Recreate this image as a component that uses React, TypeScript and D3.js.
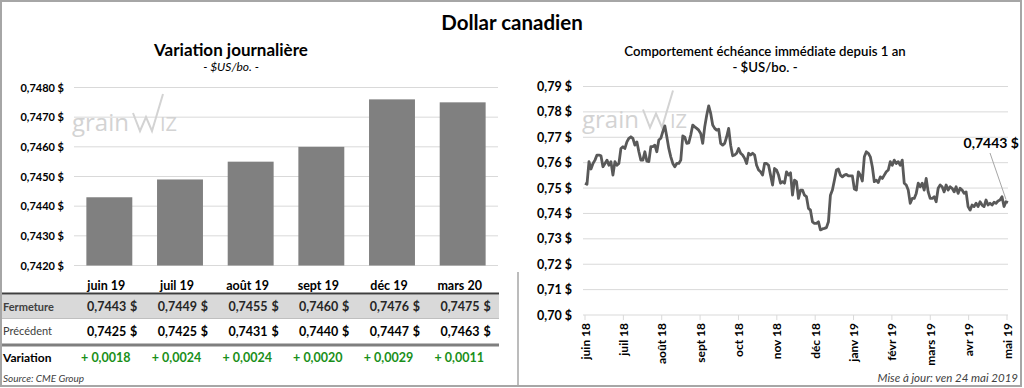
import React from 'react';
import * as d3 from 'd3';

// ---------- DATA ----------
const contracts = ['juin 19', 'juil 19', 'août 19', 'sept 19', 'déc 19', 'mars 20'];
const closeValues = [0.7443, 0.7449, 0.7455, 0.746, 0.7476, 0.7475];
const previousValues = [0.7425, 0.7425, 0.7431, 0.744, 0.7447, 0.7463];
const variationValues = [0.0018, 0.0024, 0.0024, 0.002, 0.0029, 0.0011];
const leftTicks = [0.742, 0.743, 0.744, 0.745, 0.746, 0.747, 0.748];

const monthLabels = ['juin 18', 'juil 18', 'août 18', 'sept 18', 'oct 18', 'nov 18', 'déc 18', 'janv 19', 'févr 19', 'mars 19', 'avr 19', 'mai 19'];
const rightTicks = [0.7, 0.71, 0.72, 0.73, 0.74, 0.75, 0.76, 0.77, 0.78, 0.79];
const history = [
  0.7519, 0.7515, 0.7604, 0.7575, 0.7597, 0.761, 0.763, 0.763, 0.7627, 0.7584,
  0.7597, 0.761, 0.759, 0.7604, 0.7551, 0.7604, 0.759, 0.7597, 0.7656, 0.7663,
  0.7656, 0.7682, 0.7696, 0.7702, 0.7696, 0.7669, 0.7682, 0.7643, 0.761, 0.761,
  0.7643, 0.7606, 0.7604, 0.7663, 0.7663, 0.7669, 0.7643, 0.7689, 0.7696, 0.7722,
  0.7745, 0.7702, 0.7656, 0.7623, 0.7597, 0.7584, 0.7597, 0.7597, 0.761,
  0.7705, 0.77, 0.7676, 0.7678, 0.7709, 0.7748, 0.7741, 0.7735, 0.7728, 0.7715,
  0.7676, 0.7741, 0.7787, 0.7824, 0.7794, 0.7748, 0.7735, 0.7728, 0.7732, 0.7676,
  0.7669, 0.7676, 0.7702, 0.7735, 0.7669, 0.7627, 0.763, 0.7637, 0.7656, 0.7637,
  0.763, 0.7617, 0.7597, 0.7637, 0.763, 0.7637, 0.763, 0.759, 0.7571, 0.7564,
  0.7551, 0.7597, 0.7597, 0.759, 0.7551, 0.7512, 0.7577, 0.7571, 0.7551, 0.7519,
  0.7525, 0.7519, 0.7564, 0.7551, 0.756, 0.7472,
  0.7531, 0.7525, 0.7459, 0.7492, 0.7492, 0.7472, 0.7466, 0.742, 0.7413, 0.7367,
  0.7361, 0.7361, 0.7367, 0.7335, 0.7339, 0.7341, 0.7344, 0.7367, 0.7472, 0.7492,
  0.7531, 0.7571, 0.7575, 0.7551, 0.7544, 0.7551, 0.7554, 0.7548, 0.7548, 0.7548,
  0.7496, 0.7492, 0.7564, 0.7551, 0.7528, 0.7623, 0.7643, 0.7637, 0.7623, 0.7584,
  0.7525, 0.7531, 0.7522, 0.7544, 0.7538, 0.7551, 0.7564, 0.7571, 0.7604, 0.759,
  0.761, 0.7597, 0.7604,
  0.759, 0.761, 0.7519, 0.7512, 0.7492, 0.744, 0.7459, 0.7459, 0.7479, 0.7519,
  0.7505, 0.7519, 0.7492, 0.7538, 0.7485, 0.7459, 0.7459, 0.7466, 0.7446, 0.7499,
  0.7512, 0.7505, 0.7485, 0.7512, 0.7492, 0.7505, 0.7499, 0.7485, 0.7505, 0.7479,
  0.7499, 0.7492, 0.7479, 0.7485, 0.7427, 0.7413, 0.7433, 0.7427, 0.744, 0.7427,
  0.7446, 0.7433, 0.7427, 0.7453, 0.7433, 0.744, 0.7433, 0.7444, 0.744, 0.7449,
  0.7453, 0.7466, 0.7427, 0.7446, 0.7443,
];
const lastValue = 0.7443;

// ---------- STYLE ----------
const FONT = "Lato, 'Open Sans', sans-serif";
const GRID = '#d9d9d9';
const TEXT = '#000000';
const GREEN = '#1a8f1a';

const fmt4 = (v: number) => v.toFixed(4).replace('.', ',');
const fmt2 = (v: number) => v.toFixed(2).replace('.', ',');

function Watermark({ dx, dy }: { dx: number; dy: number }) {
  const c = '#d3d3d3';
  return (
    <g transform={`translate(${dx},${dy})`} pointerEvents="none">
      <text x={72} y={131} fontFamily="'Open Sans', sans-serif" fontSize={24} fill={c}>grain</text>
      <path d="M133,113 L140,131 L146,117 L152,131 L163,94" fill="none" stroke={c} strokeWidth={2} />
      <text x={160} y={131} fontFamily="'Open Sans', sans-serif" fontSize={20} fill={c}>IZ</text>
    </g>
  );
}

export default function App() {
  // Left chart scales
  const xb = d3.scaleBand<string>().domain(contracts).range([74, 498]).paddingInner(0.35).paddingOuter(0.175);
  const yl = d3.scaleLinear().domain([0.742, 0.748]).range([265.5, 87.5]);

  // Right chart scales
  const xr = d3.scaleLinear().domain([0, history.length - 1]).range([585, 1008]);
  const xm = d3.scalePoint<string>().domain(monthLabels).range([585, 1007]);
  const yr = d3.scaleLinear().domain([0.7, 0.79]).range([315, 86.5]);
  const line = d3.line<number>().x((_, i) => xr(i)).y((d) => yr(d));

  const lastX = xr(history.length - 1);
  const lastY = yr(lastValue);

  return (
    <div style={{ position: 'absolute', left: 0, top: 0 }}>
      <svg width={1024} height={388} fontFamily={FONT} style={{ display: 'block' }}>
        <rect x={0} y={0} width={1024} height={388} fill="#fff" />

        {/* Main title */}
        <text x={512} y={30} textAnchor="middle" fontSize={20.5} fontWeight={700} fill={TEXT}>Dollar canadien</text>

        {/* ---------- LEFT CHART ---------- */}
        <text x={231} y={56} textAnchor="middle" fontSize={17} fontWeight={700} fill={TEXT}>Variation journalière</text>
        <text x={231} y={71} textAnchor="middle" fontSize={12} fontStyle="italic" fill={TEXT}>- $US/bo. -</text>

        {leftTicks.map((t) => (
          <g key={t}>
            <line x1={74} x2={498} y1={yl(t)} y2={yl(t)} stroke={GRID} strokeWidth={1} />
            <text x={64} y={yl(t) + 4} textAnchor="end" fontSize={11} fontWeight={700} fill={TEXT}>{fmt4(t)} $</text>
          </g>
        ))}

        <Watermark dx={0} dy={0} />

        {contracts.map((c, i) => (
          <rect key={c} x={xb(c)} y={yl(closeValues[i])} width={xb.bandwidth()} height={yl(0.742) - yl(closeValues[i])} fill="#808080" />
        ))}

        {/* Table */}
        {contracts.map((c) => (
          <text key={c} x={(xb(c) as number) + xb.bandwidth() / 2 - 3} y={290} textAnchor="middle" fontSize={12.5} fontWeight={700} fill={TEXT}>{c}</text>
        ))}
        <rect x={0} y={294.5} width={499} height={23.5} fill="#d9d9d9" />
        <line x1={0} x2={499} y1={293.5} y2={293.5} stroke="#3f3f3f" strokeWidth={2} />
        <line x1={0} x2={499} y1={318.5} y2={318.5} stroke="#bfbfbf" strokeWidth={1} />
        <line x1={0} x2={499} y1={345} y2={345} stroke="#7f7f7f" strokeWidth={3} />

        <text x={3} y={311} fontSize={11} fontWeight={700} fill="#404040">Fermeture</text>
        <text x={3} y={335} fontSize={11} fill="#404040">Précédent</text>
        <text x={3} y={362} fontSize={12} fontWeight={700} fill={TEXT}>Variation</text>

        {contracts.map((c, i) => {
          const right = (xb(c) as number) + xb.bandwidth();
          return (
            <g key={c}>
              <text x={right - 6} y={311} textAnchor="end" fontSize={12.5} fontWeight={700} fill="#262626">{fmt4(closeValues[i])}</text>
              <text x={right + 5} y={311} textAnchor="end" fontSize={12.5} fontWeight={700} fill="#262626">$</text>
              <text x={right - 6} y={336} textAnchor="end" fontSize={12.5} fontWeight={700} fill={TEXT}>{fmt4(previousValues[i])}</text>
              <text x={right + 5} y={336} textAnchor="end" fontSize={12.5} fontWeight={700} fill={TEXT}>$</text>
              <text x={(xb(c) as number) + xb.bandwidth() / 2 - 3.5} y={362} textAnchor="middle" fontSize={12.5} fontWeight={700} fill={GREEN}>+ {fmt4(variationValues[i])}</text>
            </g>
          );
        })}

        <text x={3} y={382} fontSize={10} fontStyle="italic" fill="#404040">Source: CME Group</text>
        <line x1={518} x2={518} y1={272} y2={387} stroke="#a6a6a6" strokeWidth={1.5} />

        {/* ---------- RIGHT CHART ---------- */}
        <text x={765} y={56} textAnchor="middle" fontSize={13.2} fontWeight={600} fill={TEXT}>Comportement échéance immédiate depuis 1 an</text>
        <text x={765} y={72} textAnchor="middle" fontSize={13.2} fontWeight={600} fill={TEXT}>- $US/bo. -</text>

        {rightTicks.map((t) => (
          <g key={t}>
            <line x1={583} x2={1008} y1={yr(t)} y2={yr(t)} stroke={GRID} strokeWidth={1} />
            <text x={572} y={yr(t) + 4.5} textAnchor="end" fontSize={12.5} fontWeight={700} fill={TEXT}>{fmt2(t)} $</text>
          </g>
        ))}

        {monthLabels.map((m) => (
          <g key={m}>
            <line x1={xm(m)} x2={xm(m)} y1={315} y2={320} stroke={GRID} strokeWidth={1} />
            <text transform={`translate(${(xm(m) as number) + 4.5},323) rotate(-90)`} textAnchor="end" fontSize={12} fontWeight={700} fill={TEXT}>{m}</text>
          </g>
        ))}

        <Watermark dx={510} dy={-3.5} />

        <path d={line(history) || ''} fill="none" stroke="#595959" strokeWidth={2.8} strokeLinejoin="round" />

        <line x1={990} y1={153} x2={lastX - 2} y2={lastY - 3} stroke="#a6a6a6" strokeWidth={1} />
        <text x={1019} y={148} textAnchor="end" fontSize={14} fontWeight={700} fill={TEXT}>{fmt4(lastValue)} $</text>

        <text x={1018} y={382} textAnchor="end" fontSize={11.5} fontStyle="italic" fill="#404040">Mise à jour: ven 24 mai 2019</text>

        {/* Outer border */}
        <rect x={1} y={1} width={1020} height={385} fill="none" stroke="#a6a6a6" strokeWidth={2} />
      </svg>
    </div>
  );
}
